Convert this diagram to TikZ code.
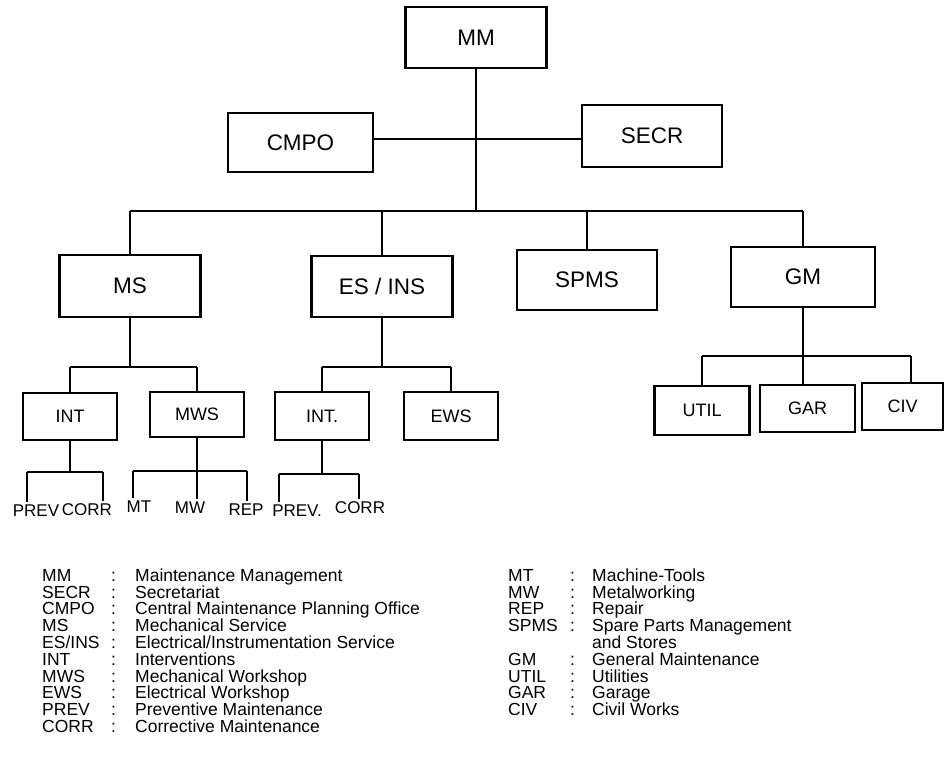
\documentclass[tikz,border=0pt]{standalone}
\usepackage{fontspec}
\setmainfont{Liberation Sans}
\usetikzlibrary{positioning}
\tikzset{
  % department boxes
  unit/.style={rectangle, draw=black, line width=2.2pt,
               minimum width=141pt, minimum height=61pt,
               font=\fontsize{22.5}{24}\selectfont},
  % section boxes
  subunit/.style={rectangle, draw=black, line width=2.2pt,
                  minimum width=94pt, minimum height=47pt,
                  font=\fontsize{18}{20}\selectfont},
  % bottom level labels
  leaf/.style={inner sep=3pt, font=\fontsize{17}{18}\selectfont},
  % tree lines
  link/.style={draw=black, line width=1.8pt},
  % legend entries
  key/.style={anchor=base west, inner sep=0pt,
              font=\fontsize{17.5}{18}\selectfont},
}

\begin{document}
\begin{tikzpicture}[x=1pt, y=-1pt]
\useasboundingbox (0,0) rectangle (947,777);

% ── Top: management and staff ────────────────────────────────────────────────
\node[unit] (mm) at (476,37.5) {MM};
\node[unit, minimum width=145pt, minimum height=59pt] (cmpo) at (300.5,142.5) {CMPO};
\node[unit, minimum width=140pt, minimum height=62pt] (secr) at (652,136) {SECR};

% ── Services ─────────────────────────────────────────────────────────────────
\node[unit, minimum height=62pt] (ms)    at (130,286)   {MS};
\node[unit]                      (esins) at (382,286.5) {ES / INS};
\node[unit, minimum width=140pt, minimum height=60pt] (spms) at (587,280) {SPMS};
\node[unit, minimum width=144pt, minimum height=60pt] (gm)   at (803,277) {GM};

% ── Sections ─────────────────────────────────────────────────────────────────
\node[subunit]                      (intm) at (70,416.5)  {INT};
\node[subunit, minimum height=45pt] (mws)  at (197,414.5) {MWS};
\node[subunit, minimum height=48pt] (inte) at (322,416)   {INT.};
\node[subunit, minimum height=48pt] (ews)  at (451,416)   {EWS};
\node[subunit, minimum width=95pt, minimum height=49pt] (util) at (702,410.5)   {UTIL};
\node[subunit, minimum width=95pt]                      (gar)  at (807.5,408.5) {GAR};
\node[subunit, minimum width=81pt]                      (civ)  at (902.5,406.5) {CIV};

% ── Bottom labels ────────────────────────────────────────────────────────────
\node[leaf] (prevm) at (36,511)  {PREV};
\node[leaf] (corrm) at (87,510)  {CORR};
\node[leaf] (mt)    at (139,507) {MT};
\node[leaf] (mw)    at (190,508) {MW};
\node[leaf] (rep)   at (246,510) {REP};
\node[leaf] (preve) at (297,511) {PREV.};
\node[leaf] (corre) at (360,508) {CORR};

% ── Junctions ────────────────────────────────────────────────────────────────
\coordinate (hub)    at (476,139);
\coordinate (bus)    at (130,211);
\coordinate (msbus)  at (130,367);
\coordinate (esbus)  at (382,367);
\coordinate (gmbus)  at (803,356);
\coordinate (civtap) at (911,356);
\coordinate (pm)  at (27,472);
\coordinate (cm)  at (103,472);
\coordinate (mtl) at (133,471);
\coordinate (rpl) at (247,471);
\coordinate (pe)  at (279,474);
\coordinate (ce)  at (359,474);

% ── Lines ────────────────────────────────────────────────────────────────────
\draw[link] (mm.south) -- (mm.south |- bus);
\draw[link] (cmpo.east |- hub) -- (secr.west |- hub);
\draw[link] (ms.north |- bus) -- (gm.north |- bus);
\foreach \n in {ms, esins, spms, gm}
  \draw[link] (\n.north |- bus) -- (\n.north);

\draw[link] (ms.south) -- (msbus);
\draw[link] (intm.north |- msbus) -- (mws.north |- msbus);
\foreach \n in {intm, mws}
  \draw[link] (\n.north |- msbus) -- (\n.north);

\draw[link] (esins.south) -- (esbus);
\draw[link] (inte.north |- esbus) -- (ews.north |- esbus);
\foreach \n in {inte, ews}
  \draw[link] (\n.north |- esbus) -- (\n.north);

\draw[link] (gm.south) -- (gm.south |- gar.north);
\draw[link] (util.north |- gmbus) -- (civtap);
\draw[link] (util.north |- gmbus) -- (util.north);
\draw[link] (civtap) -- (civtap |- civ.north);

\draw[link] (intm.south) -- (intm.south |- pm);
\draw[link] (pm) -- (cm);
\draw[link] (pm) -- (pm |- prevm.north);
\draw[link] (cm) -- (cm |- corrm.north);

\draw[link] (mws.south) -- (mws.south |- mw.north);
\draw[link] (mtl) -- (rpl);
\draw[link] (mtl) -- (mtl |- mt.north);
\draw[link] (rpl) -- (rpl |- rep.north);

\draw[link] (inte.south) -- (inte.south |- pe);
\draw[link] (pe) -- (ce);
\draw[link] (pe) -- (pe |- preve.north);
\draw[link] (ce) -- (ce |- corre.north);

% ── Legend ───────────────────────────────────────────────────────────────────
\foreach \ab/\ds [count=\i] in {MM/Maintenance Management, SECR/Secretariat,
    CMPO/Central Maintenance Planning Office, MS/Mechanical Service,
    {ES/INS}/{Electrical/Instrumentation Service}, INT/Interventions,
    MWS/Mechanical Workshop, EWS/Electrical Workshop,
    PREV/Preventive Maintenance, CORR/Corrective Maintenance} {
  \node[key] (la\i) at (42,564.5+16.8*\i)  {\ab};
  \node[key] (lc\i) at (111,564.5+16.8*\i) {:};
  \node[key] (ld\i) at (135,564.5+16.8*\i) {\ds};
}
\foreach \r/\ab/\ds in {1/MT/Machine-Tools, 2/MW/Metalworking, 3/REP/Repair,
    4/SPMS/Spare Parts Management, 6/GM/General Maintenance,
    7/UTIL/Utilities, 8/GAR/Garage, 9/CIV/Civil Works} {
  \node[key] (ra\r) at (508,564.5+16.8*\r) {\ab};
  \node[key] (rc\r) at (570,564.5+16.8*\r) {:};
  \node[key] (rd\r) at (592,564.5+16.8*\r) {\ds};
}
\node[key] (rd5) at (592,648.5) {and Stores};

\end{tikzpicture}
\end{document}
